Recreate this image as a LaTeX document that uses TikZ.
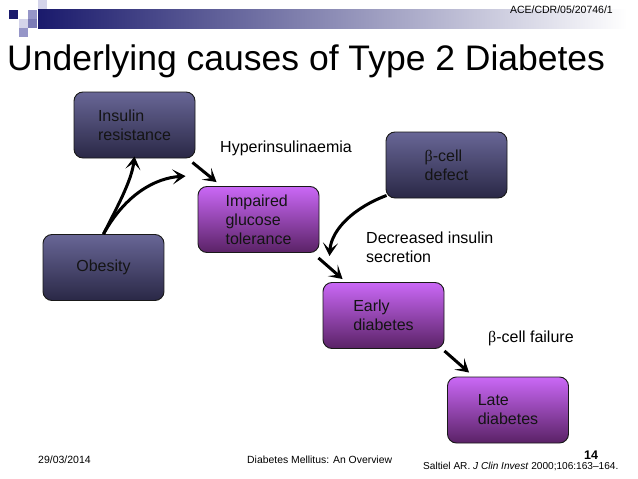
\documentclass[tikz,border=0pt]{standalone}
\usepackage{fontspec}
\setmainfont{Liberation Sans}
\newfontfamily\grk{Liberation Serif}
\usetikzlibrary{positioning,arrows.meta}
\definecolor{causetop}{RGB}{104,102,150}
\definecolor{causebot}{RGB}{42,40,70}
\definecolor{stagetop}{RGB}{202,104,246}
\definecolor{stagebot}{RGB}{90,34,102}
\definecolor{barnavy}{RGB}{26,26,108}
\definecolor{sqpale}{RGB}{212,212,234}
\definecolor{sqmid}{RGB}{150,150,200}
\definecolor{sqdeep}{RGB}{124,124,182}

\begin{document}
\begin{tikzpicture}[
  x=1pt, y=-1pt,
  every node/.style={font=\fontsize{16}{19}\selectfont, inner sep=0pt},
  box/.style={draw=black!90, line width=0.9pt, rounded corners=9pt, align=left,
    minimum width=121pt, minimum height=66pt, text=black!92},
  cause/.style={box, top color=causetop, bottom color=causebot},
  stage/.style={box, top color=stagetop, bottom color=stagebot},
  arr/.style={line width=3pt, -{Stealth[length=13pt,width=15pt,inset=6.5pt]}},
  small/.style={font=\fontsize{10.5}{12}\selectfont}
]
\useasboundingbox[fill=white] (0,0) rectangle (638,479);

% ---------------- slide header ----------------
\shade[left color=barnavy, right color=white] (38,9) rectangle (627,28);
\fill[barnavy] (9,10) rectangle (18,19);
\fill[sqmid] (28,10) rectangle (37,19);
\fill[sqpale] (19,19) rectangle (28,28);
\fill[sqdeep] (28,19) rectangle (37,28);
\fill[sqmid] (19,28) rectangle (28,37);
\fill[sqpale] (38,0) rectangle (47,9);

\node[small, anchor=base east] (docid) at (613,13) {ACE/CDR/05/20746/1};
\node[anchor=base west, font=\fontsize{35.5}{40}\selectfont] (title) at (7,70)
  {Underlying causes of Type 2 Diabetes};

% ---------------- causes ----------------
\node[cause] (insres) at (134.5,125) {Insulin\\resistance};
\node[cause] (obesity) at (103.5,267.5) {Obesity};
\node[cause] (betad) at (446.5,165) {{\grk β}-cell\\defect};

% ---------------- stages ----------------
\node[stage] (igt) at (258.5,219.5) {Impaired\\glucose\\tolerance};
\node[stage] (early) at (383.5,315.5) {Early\\diabetes};
\node[stage] (late) at (508,410) {Late\\diabetes};

% labels
\node[anchor=west] (hyper) at (220,148) {Hyperinsulinaemia};
\node[anchor=west, align=left] (decr) at (366,247) {Decreased insulin\\secretion};
\node[anchor=west] (fail) at (488,338) {{\grk β}-cell failure};

% ---------------- arrows ----------------
\draw[arr] (obesity.north) .. controls +(12,-24) and +(-3,25) .. ([yshift=2]insres.south);
\draw[arr] (obesity.north) .. controls +(22,-40) and +(-30,2) .. ([shift={(-12,-10)}]igt.north west);
\draw[arr] ([shift={(-3,4)}]insres.south east) -- ([shift={(19,-4)}]igt.north west);
\draw[arr] ([shift={(1,-3)}]betad.south west) .. controls +(-32,12) and +(2,-27) .. ([shift={(10,3)}]igt.south east);
\draw[arr] ([shift={(-1,5)}]igt.south east) -- ([shift={(20,-3)}]early.north west);
\draw[arr] ([shift={(0,2)}]early.south east) -- ([shift={(22,-4)}]late.north west);

% ---------------- footer ----------------
\node[small, anchor=base west] (date) at (38,463) {29/03/2014};
\node[small, anchor=base west, font=\fontsize{10.4}{12}\selectfont] (course) at (247,463)
  {Diabetes Mellitus: An Overview};
\node[anchor=base, font=\fontsize{12.5}{14}\selectfont\bfseries] (page) at (591,459) {14};
\node[anchor=base west, font=\fontsize{10.1}{12}\selectfont] (ref) at (423,469)
  {Saltiel AR. \textit{J Clin Invest} 2000;106:163--164.};

\end{tikzpicture}
\end{document}
